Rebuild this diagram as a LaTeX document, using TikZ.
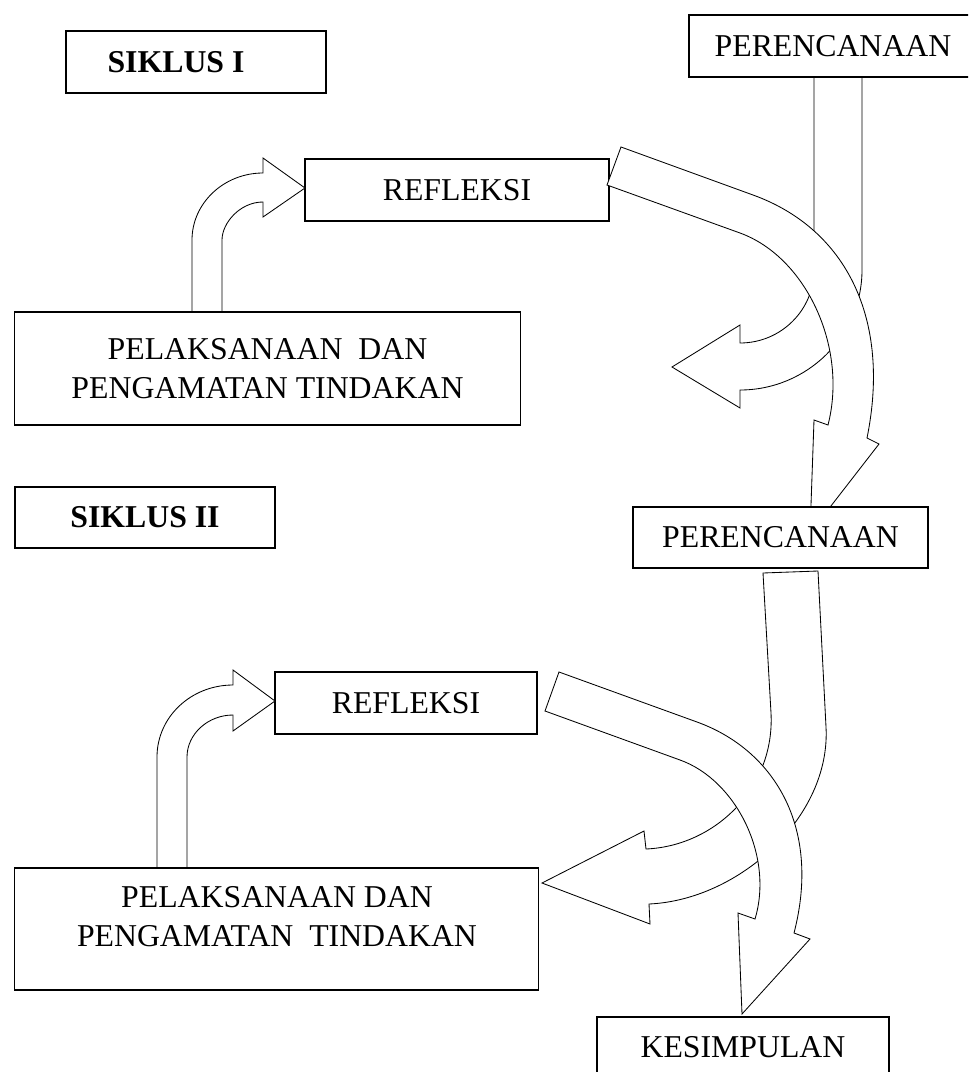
\documentclass[tikz,border=0pt]{standalone}
\usepackage{fontspec}
\setmainfont{Liberation Serif}
\begin{document}
\begin{tikzpicture}[x=0.025cm,y=-0.025cm,
  box/.style={draw,line width=0.8pt,fill=white,inner sep=0pt,font=\fontsize{22.6pt}{27.7pt}\selectfont},
  boxtext/.style={inner sep=0pt,align=center,font=\fontsize{22.6pt}{27.7pt}\selectfont},
  blockarrow/.style={draw,fill=white,line width=0.6pt,line join=miter}]
\useasboundingbox (0,0) rectangle (968,1072);
\clip (0,0) rectangle (968,1072);

% siklus I
\node[box,minimum width=6.5cm,minimum height=1.55cm] (siklus1) at (196,62) {};
\node[boxtext] (siklus1text) at (176,62) {\textbf{SIKLUS I}};
\node[box,minimum width=7.6cm,minimum height=1.55cm] (refleksi1) at (457,190) {REFLEKSI};

\draw[blockarrow] (814,77) -- (814,270) .. controls (814,310) and (781,343) .. (740,343)
  -- (740,325) -- (672,367) -- (740,408) -- (740,390)
  .. controls (807,390) and (862,336) .. (862,270) -- (862,77) -- cycle;
\node[box,minimum width=7.5cm,minimum height=1.55cm] (perencanaan1) at (839,46) {};
\node[boxtext] (perencanaan1text) at (833,46) {PERENCANAAN};

\draw[blockarrow] (621,147) -- (753,195) .. controls (847,229) and (891,320) .. (867,438)
  -- (879,444) -- (810,533) -- (814,420) -- (828,425)
  .. controls (848,347) and (806,257) .. (740,233) -- (607,185) -- cycle;

\draw[blockarrow] (192,312) -- (192,240) .. controls (192,203) and (224,173) .. (263,173)
  -- (263,158) -- (305,188) -- (263,217) -- (263,202)
  .. controls (240,202) and (222,223) .. (222,240) -- (222,312) -- cycle;
\node[box,align=center,minimum width=12.625cm,minimum height=2.825cm] (pelaksanaan1) at (267.5,368.5)
  {PELAKSANAAN\ \ DAN\\PENGAMATAN TINDAKAN};

% siklus II
\node[box,minimum width=6.5cm,minimum height=1.525cm] (siklus2) at (145,517.5) {\textbf{SIKLUS II}};
\node[box,minimum width=7.375cm,minimum height=1.525cm] (perencanaan2) at (780.5,537.5) {PERENCANAAN};
\node[box,minimum width=6.55cm,minimum height=1.55cm] (refleksi2) at (406,703) {REFLEKSI};

\draw[blockarrow] (763,573) -- (771,713) .. controls (775,788) and (715,846) .. (646,849)
  -- (644,831) -- (542,883) -- (650,924) -- (649,904)
  .. controls (739,900) and (831,817) .. (826,727) -- (818,571) -- cycle;

\draw[blockarrow] (559,672) -- (697,722) .. controls (772,749) and (822,825) .. (794,933)
  -- (810,939) -- (742,1014) -- (738,913) -- (755,919)
  .. controls (774,856) and (736,780) .. (680,760) -- (545,711) -- cycle;
\node[box,minimum width=7.3cm,minimum height=1.5cm] (kesimpulan) at (743,1047) {KESIMPULAN};

\draw[blockarrow] (157,868) -- (157,757) .. controls (157,717) and (191,685) .. (233,685)
  -- (233,670) -- (275,701) -- (233,731) -- (233,715)
  .. controls (208,715) and (187,734) .. (187,757) -- (187,868) -- cycle;
\node[box,minimum width=13.075cm,minimum height=3.05cm] (pelaksanaan2) at (276.5,929) {};
\node[boxtext] (pelaksanaan2text) at (277,917) {PELAKSANAAN DAN\\PENGAMATAN\ \ TINDAKAN};
\end{tikzpicture}
\end{document}
